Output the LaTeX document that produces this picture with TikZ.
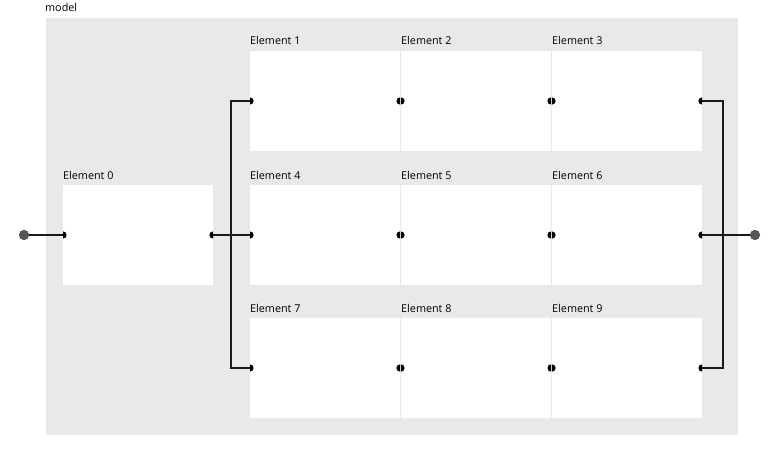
\documentclass[tikz,border=0pt]{standalone}
\usepackage{fontspec}
\setmainfont{Open Sans}
\usetikzlibrary{positioning}
\definecolor{modelbg}{RGB}{233,233,233}
\definecolor{portgray}{RGB}{85,85,85}
\definecolor{wirecol}{RGB}{25,25,25}

\begin{document}
\begin{tikzpicture}[x=1pt,y=-1pt]
    \tikzstyle{element} = [fill=white, minimum width=150pt, minimum height=100pt, inner sep=0pt, outer sep=0pt, anchor=north west]
    \tikzstyle{caption} = [inner sep=0pt, font=\fontsize{10.8}{12}\selectfont]
    \tikzstyle{wire} = [line width=1.8pt, draw=wirecol]
    \tikzstyle{extport} = [circle, fill=portgray, minimum size=10pt, inner sep=0pt]
    \tikzset{
        inport/.pic={\fill[black] (0,-3.6) arc[start angle=-90, end angle=90, radius=3.6] -- cycle;},
        outport/.pic={\fill[black] (0,-3.6) arc[start angle=-90, end angle=-270, radius=3.6] -- cycle;}
    }
    \useasboundingbox (0,0) rectangle (776,460);

    \node[fill=modelbg, minimum width=692pt, minimum height=417pt, inner sep=0pt, anchor=north west] (model) at (46,18) {};
    \node[caption, anchor=base west] at (45,12) {model};

    \node[element] (e0) at (63,185) {};
    \node[element] (e1) at (250,51) {};
    \node[element, right=1pt of e1] (e2) {};
    \node[element, right=1pt of e2] (e3) {};
    \node[element] (e4) at (250,185) {};
    \node[element, right=1pt of e4] (e5) {};
    \node[element, right=1pt of e5] (e6) {};
    \node[element] (e7) at (250,318) {};
    \node[element, right=1pt of e7] (e8) {};
    \node[element, right=1pt of e8] (e9) {};

    \foreach \i in {0,...,9}{
        \node[caption, above=6pt of e\i.north west, anchor=base west] {Element \i};
    }

    \node[extport] (src) at (24,235) {};
    \node[extport] (dst) at (755,235) {};

    \draw[wire] (src.center) -- (e0.west);
    \draw[wire] (e0.east) -- (e4.west);
    \draw[wire] (e1.west) -- ++(-19,0) |- (e7.west);
    \draw[wire] (e3.east) -- ++(21,0) |- (e9.east);
    \draw[wire] (e6.east) -- (dst.center);

    \foreach \i in {0,...,9}{
        \pic at (e\i.west) {inport};
        \pic at (e\i.east) {outport};
    }
    \fill[portgray] (src) circle[radius=5pt];
    \fill[portgray] (dst) circle[radius=5pt];
\end{tikzpicture}
\end{document}
